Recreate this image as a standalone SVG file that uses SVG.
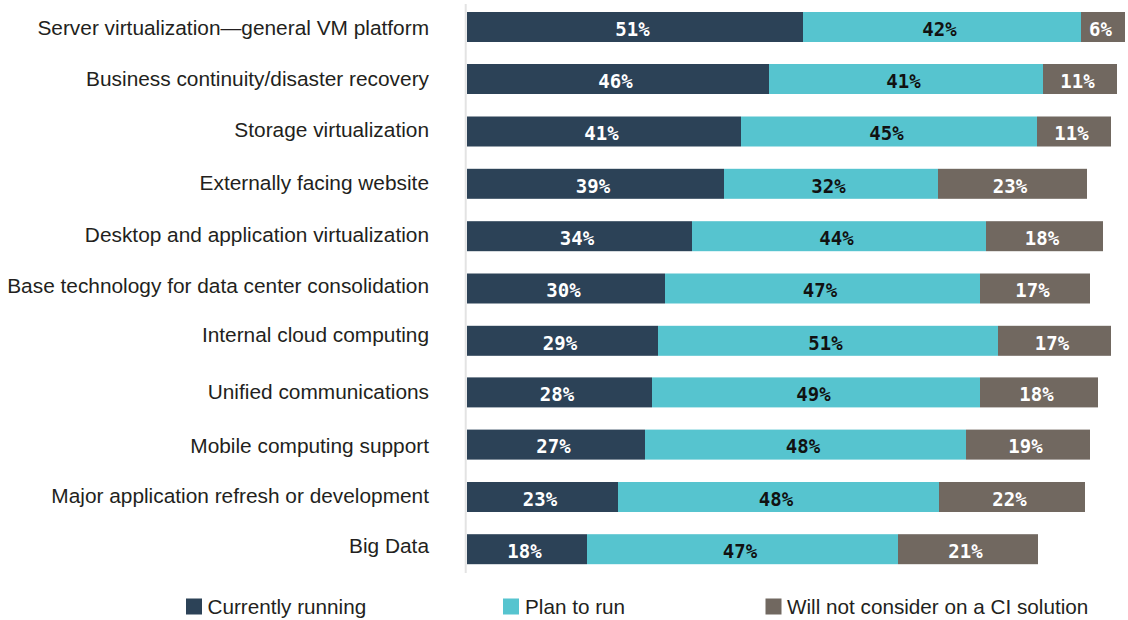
<svg xmlns="http://www.w3.org/2000/svg" width="1128" height="620" viewBox="0 0 1128 620">
<style>
.lbl{font-family:"Liberation Sans",Arial,sans-serif;font-size:20.85px;fill:#231f20;text-anchor:end}
.leg{font-family:"Liberation Sans",Arial,sans-serif;font-size:20.7px;fill:#231f20}
.pct{font-family:"DejaVu Sans Mono",monospace;font-weight:bold;font-size:19px;text-anchor:middle}
.w{fill:#ffffff}
.k{fill:#111111}
.cur{fill:#2c4257}
.plan{fill:#56c4cf}
.no{fill:#716860}
</style>
<rect width="1128" height="620" fill="#ffffff"/>
<g id="axis"><line x1="465.7" y1="4" x2="465.7" y2="573" stroke="#e3e3e3" stroke-width="2"/></g>

<g id="labels">
<text class="lbl" x="429" y="34.7">Server virtualization—general VM platform</text>
<text class="lbl" x="429" y="86">Business continuity/disaster recovery</text>
<text class="lbl" x="429" y="137.3">Storage virtualization</text>
<text class="lbl" x="429" y="190">Externally facing website</text>
<text class="lbl" x="429" y="241.7">Desktop and application virtualization</text>
<text class="lbl" x="429" y="293">Base technology for data center consolidation</text>
<text class="lbl" x="429" y="341.7">Internal cloud computing</text>
<text class="lbl" x="429" y="399.3">Unified communications</text>
<text class="lbl" x="429" y="453.3">Mobile computing support</text>
<text class="lbl" x="429" y="502.7">Major application refresh or development</text>
<text class="lbl" x="429" y="553.3">Big Data</text>
</g>

<g id="bar1">
<rect class="cur" x="467" y="12" width="336" height="30"/>
<rect class="plan" x="803" y="12" width="278" height="30"/>
<rect class="no" x="1081" y="12" width="44" height="30"/>
<text class="pct w" x="632.5" y="35.7">51%</text>
<text class="pct k" x="939.5" y="35.7">42%</text>
<text class="pct w" x="1100.5" y="35.7">6%</text>
</g>
<g id="bar2">
<rect class="cur" x="467" y="64" width="302" height="30"/>
<rect class="plan" x="769" y="64" width="274" height="30"/>
<rect class="no" x="1043" y="64" width="74" height="30"/>
<text class="pct w" x="615.5" y="87.7">46%</text>
<text class="pct k" x="903.5" y="87.7">41%</text>
<text class="pct w" x="1077.5" y="87.7">11%</text>
</g>
<g id="bar3">
<rect class="cur" x="467" y="116.5" width="274" height="30"/>
<rect class="plan" x="741" y="116.5" width="296" height="30"/>
<rect class="no" x="1037" y="116.5" width="74" height="30"/>
<text class="pct w" x="601.5" y="140.2">41%</text>
<text class="pct k" x="886.5" y="140.2">45%</text>
<text class="pct w" x="1071.5" y="140.2">11%</text>
</g>
<g id="bar4">
<rect class="cur" x="467" y="168.8" width="257" height="30"/>
<rect class="plan" x="724" y="168.8" width="214" height="30"/>
<rect class="no" x="938" y="168.8" width="149" height="30"/>
<text class="pct w" x="593" y="192.5">39%</text>
<text class="pct k" x="828.5" y="192.5">32%</text>
<text class="pct w" x="1010" y="192.5">23%</text>
</g>
<g id="bar5">
<rect class="cur" x="467" y="221.2" width="225" height="30"/>
<rect class="plan" x="692" y="221.2" width="294" height="30"/>
<rect class="no" x="986" y="221.2" width="117" height="30"/>
<text class="pct w" x="577" y="244.9">34%</text>
<text class="pct k" x="836.5" y="244.9">44%</text>
<text class="pct w" x="1042" y="244.9">18%</text>
</g>
<g id="bar6">
<rect class="cur" x="467" y="273.5" width="198" height="30"/>
<rect class="plan" x="665" y="273.5" width="315" height="30"/>
<rect class="no" x="980" y="273.5" width="110" height="30"/>
<text class="pct w" x="563.5" y="297.2">30%</text>
<text class="pct k" x="820" y="297.2">47%</text>
<text class="pct w" x="1032.5" y="297.2">17%</text>
</g>
<g id="bar7">
<rect class="cur" x="467" y="325.8" width="191" height="30"/>
<rect class="plan" x="658" y="325.8" width="340" height="30"/>
<rect class="no" x="998" y="325.8" width="113" height="30"/>
<text class="pct w" x="560" y="349.5">29%</text>
<text class="pct k" x="825.5" y="349.5">51%</text>
<text class="pct w" x="1052" y="349.5">17%</text>
</g>
<g id="bar8">
<rect class="cur" x="467" y="377.4" width="185" height="30"/>
<rect class="plan" x="652" y="377.4" width="328" height="30"/>
<rect class="no" x="980" y="377.4" width="118" height="30"/>
<text class="pct w" x="557" y="401.1">28%</text>
<text class="pct k" x="813.5" y="401.1">49%</text>
<text class="pct w" x="1036.5" y="401.1">18%</text>
</g>
<g id="bar9">
<rect class="cur" x="467" y="429.6" width="178" height="30"/>
<rect class="plan" x="645" y="429.6" width="321" height="30"/>
<rect class="no" x="966" y="429.6" width="124" height="30"/>
<text class="pct w" x="553.5" y="453.3">27%</text>
<text class="pct k" x="803" y="453.3">48%</text>
<text class="pct w" x="1025.5" y="453.3">19%</text>
</g>
<g id="bar10">
<rect class="cur" x="467" y="482" width="151" height="30"/>
<rect class="plan" x="618" y="482" width="321" height="30"/>
<rect class="no" x="939" y="482" width="146" height="30"/>
<text class="pct w" x="540" y="505.7">23%</text>
<text class="pct k" x="776" y="505.7">48%</text>
<text class="pct w" x="1009.5" y="505.7">22%</text>
</g>
<g id="bar11">
<rect class="cur" x="467" y="534.2" width="120" height="30"/>
<rect class="plan" x="587" y="534.2" width="311" height="30"/>
<rect class="no" x="898" y="534.2" width="140" height="30"/>
<text class="pct w" x="524.5" y="557.9">18%</text>
<text class="pct k" x="740" y="557.9">47%</text>
<text class="pct w" x="965.5" y="557.9">21%</text>
</g>

<g id="legend">
<rect class="cur" x="186" y="598.5" width="16" height="16"/>
<text class="leg" x="207.5" y="614.3">Currently running</text>
<rect class="plan" x="503" y="598.5" width="16" height="16"/>
<text class="leg" x="525" y="614.3">Plan to run</text>
<rect class="no" x="765.5" y="598.5" width="16" height="16"/>
<text class="leg" x="787" y="614.3">Will not consider on a CI solution</text>
</g>
</svg>
